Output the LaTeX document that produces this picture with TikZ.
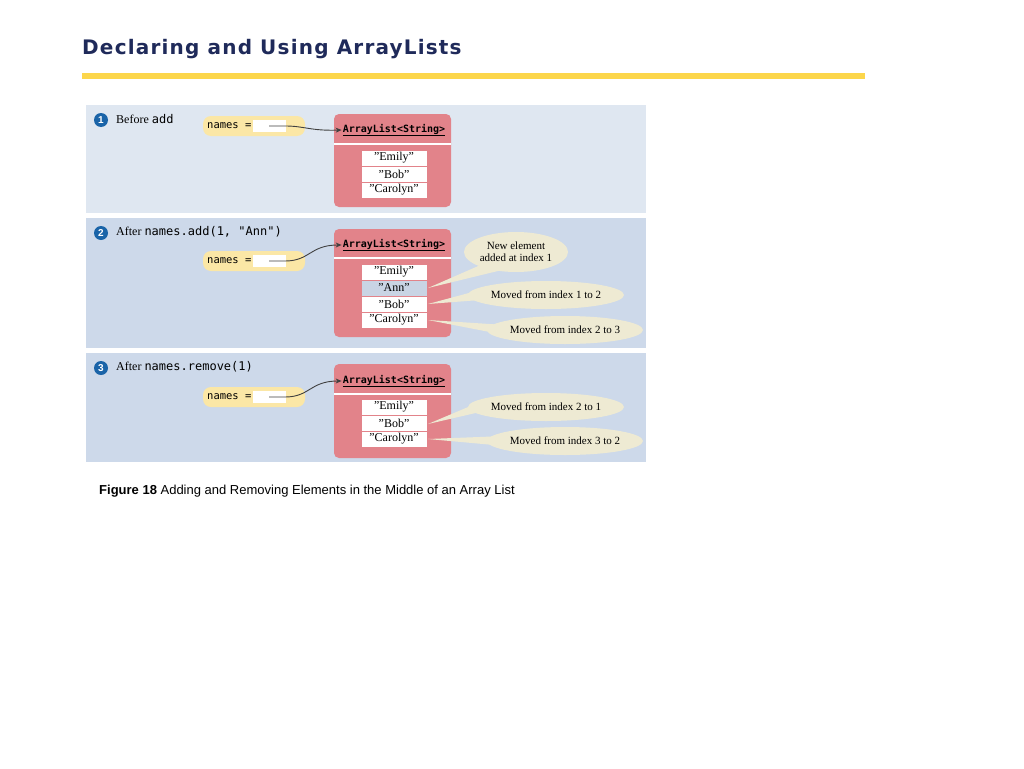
\documentclass[tikz,border=0pt]{standalone}
\usepackage{fontspec}
\setmainfont{Liberation Serif}[Ligatures=ResetAll]
\setsansfont{Liberation Sans}
\setmonofont{DejaVu Sans Mono}
\newfontfamily\titlefont[LetterSpace=6]{DejaVu Sans}
\usetikzlibrary{arrows.meta,shapes.geometric}
\definecolor{pA}{HTML}{DFE7F1}
\definecolor{pB}{HTML}{CDD9EA}
\definecolor{redbox}{HTML}{E2838A}
\definecolor{namey}{HTML}{FBE7A6}
\definecolor{call}{HTML}{EEEAD3}
\definecolor{annc}{HTML}{C9D4E4}
\definecolor{navy}{HTML}{1F2A5A}
\definecolor{stepc}{HTML}{1A64A8}
\newcommand{\qq}[1]{\symbol{34}#1\symbol{34}}
\tikzset{
 x=1pt,y=-1pt,
 stepnum/.style={circle,fill=stepc,text=white,inner sep=0pt,minimum size=14,font=\sffamily\bfseries\fontsize{10}{10}\selectfont},
 lbl/.style={anchor=west,inner sep=0pt,font=\fontsize{12}{13}\selectfont},
 namesbox/.style={fill=namey,rounded corners=8,minimum width=102,minimum height=20,inner sep=0pt},
 ntext/.style={font=\ttfamily\fontsize{10.5}{11}\selectfont,anchor=west,inner sep=0pt},
 refbox/.style={fill=white,minimum width=33,minimum height=12,inner sep=0pt},
 listbox/.style={fill=redbox,rounded corners=5,draw=none},
 cell/.style={fill=white,draw=redbox,minimum width=66,minimum height=16,inner sep=0pt,font=\fontsize{12}{13}\selectfont},
 ltitle/.style={font=\ttfamily\bfseries\fontsize{10}{11}\selectfont,inner sep=1pt},
 callout/.style={ellipse,fill=call,inner sep=0pt,font=\fontsize{11}{12}\selectfont,align=center},
 ptr/.style={-{Stealth[length=6pt,width=5pt]},line width=0.9pt,black!75},
}
\begin{document}
\begin{tikzpicture}
\useasboundingbox[fill=white] (0,0) rectangle (1024,768);
\node[anchor=west,inner sep=0pt,text=navy,font=\titlefont\bfseries\fontsize{20}{22}\selectfont] (title) at (82,49) {Declaring and Using ArrayLists};
\fill[yellow!60!orange!70] (82,72.5) rectangle (865,79);
% panels
\fill[pA] (86,105) rectangle (646,213);
\fill[pB] (86,218) rectangle (646,348);
\fill[pB] (86,353) rectangle (646,462);
% ---- panel 1
\node[stepnum] (s1) at (101,120) {1};
\node[lbl] (t1) at (116,119) {Before \texttt{add}};
\node[namesbox] (n1) at (254,126) {};
\node[ntext] at (207,126) {names =};
\node[refbox] (r1) at (269,126) {};
\fill[listbox] (334,114) rectangle (451,207);
\node[ltitle] (L1) at (394,130) {\underline{ArrayList<String>}};
\draw[white,line width=2.5pt] (334,144) -- (451,144);
\node[cell] (a1) at (394,158) {\qq{Emily}};
\node[cell] (b1) at (394,174) {\qq{Bob}};
\node[cell] (c1) at (394,190) {\qq{Carolyn}};
\draw[ptr] (r1.center) -- ++(16,0) .. controls (305,126) and (310,131) .. (L1.west);
% ---- panel 2
\node[stepnum] (s2) at (101,233) {2};
\node[lbl] (t2) at (116,232) {After \texttt{names.add(1, "Ann")}};
\node[namesbox] (n2) at (254,261) {};
\node[ntext] at (207,261) {names =};
\node[refbox] (r2) at (269,261) {};
\fill[listbox] (334,229) rectangle (451,337);
\node[ltitle] (L2) at (394,245) {\underline{ArrayList<String>}};
\draw[white,line width=2.5pt] (334,258) -- (451,258);
\fill[call] (428,288) -- (492,260) -- (502,270) -- cycle;
\fill[call] (428,304) -- (480,290) -- (480,300) -- cycle;
\fill[call] (428,320) -- (505,325) -- (505,335) -- cycle;
\node[cell] (a2) at (394,272) {\qq{Emily}};
\node[cell,fill=annc] (b2) at (394,288) {\qq{Ann}};
\node[cell] (c2) at (394,304) {\qq{Bob}};
\node[cell] (d2) at (394,320) {\qq{Carolyn}};
\draw[ptr] (r2.center) -- ++(16,0) .. controls (310,261) and (310,245) .. (L2.west);
\node[callout,minimum width=104,minimum height=40] (e1) at (516,252) {New element\\added at index 1};
\node[callout,minimum width=154,minimum height=28] (e2) at (546,295) {Moved from index 1 to 2};
\node[callout,minimum width=144,minimum height=28] (e3) at (565,330) {Moved from index 2 to 3};
% ---- panel 3
\node[stepnum] (s3) at (101,368) {3};
\node[lbl] (t3) at (116,367) {After \texttt{names.remove(1)}};
\node[namesbox] (n3) at (254,397) {};
\node[ntext] at (207,397) {names =};
\node[refbox] (r3) at (269,397) {};
\fill[listbox] (334,364) rectangle (451,458);
\node[ltitle] (L3) at (394,381) {\underline{ArrayList<String>}};
\draw[white,line width=2.5pt] (334,394) -- (451,394);
\fill[call] (428,424) -- (480,402) -- (480,412) -- cycle;
\fill[call] (428,439) -- (505,436) -- (505,446) -- cycle;
\node[cell] (a3) at (394,407) {\qq{Emily}};
\node[cell] (b3) at (394,423) {\qq{Bob}};
\node[cell] (c3) at (394,439) {\qq{Carolyn}};
\draw[ptr] (r3.center) -- ++(16,0) .. controls (310,397) and (310,381) .. (L3.west);
\node[callout,minimum width=154,minimum height=28] (e4) at (546,407) {Moved from index 2 to 1};
\node[callout,minimum width=144,minimum height=28] (e5) at (565,441) {Moved from index 3 to 2};
% caption
\node[anchor=west,inner sep=0pt,font=\sffamily\fontsize{13}{15}\selectfont] (cap) at (99,491) {\textbf{Figure 18} Adding and Removing Elements in the Middle of an Array List};
\end{tikzpicture}
\end{document}
